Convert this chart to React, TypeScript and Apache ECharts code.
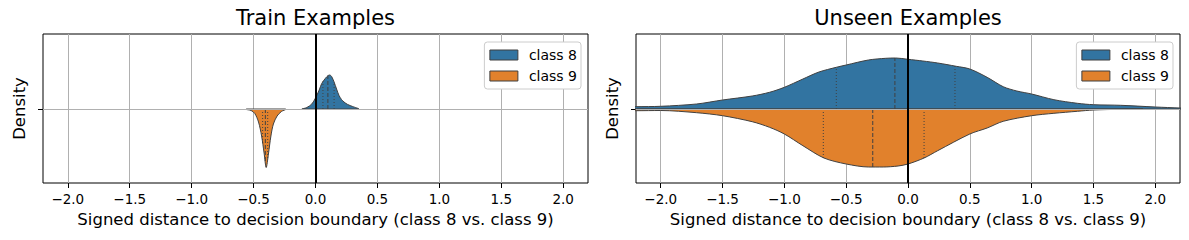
import React, { useEffect, useRef } from 'react';
import * as echarts from 'echarts';

const FONT = 'DejaVu Sans';
const BLUE = '#3274a1';
const ORANGE = '#e1812c';
const OUTLINE = '#404040';
const GRID_COLOR = '#b0b0b0';

const TITLES = ['Train Examples', 'Unseen Examples'];
const LEGEND_NAMES = ['class 8', 'class 9'];
const X_NAME = 'Signed distance to decision boundary (class 8 vs. class 9)';
const Y_NAME = 'Density';
const X_TICKS = [-2, -1.5, -1, -0.5, 0, 0.5, 1, 1.5, 2];

// Train: class 8 (upper half) density profile
const TRAIN_C8_X = [-0.11, -0.07, -0.03, 0, 0.03, 0.05, 0.08, 0.1, 0.115, 0.13, 0.15, 0.17, 0.19, 0.21, 0.23, 0.26, 0.3, 0.35];
const TRAIN_C8_D = [0, 1.5, 5, 11, 19, 25.5, 30.7, 33.3, 34, 32.5, 27, 20, 13.5, 9.5, 7, 4.5, 2.5, 0.3];
const TRAIN_C8_QX = [0.06, 0.1, 0.15];
const TRAIN_C8_QD = [27.5, 33.3, 27];

// Train: class 9 (lower half)
const TRAIN_C9_X = [-0.56, -0.52, -0.49, -0.46, -0.435, -0.415, -0.398, -0.38, -0.36, -0.34, -0.31, -0.275, -0.24];
const TRAIN_C9_D = [0.5, 1.5, 4.5, 13, 27, 44, 58.5, 45, 27, 15, 7, 2.5, 0.5];
const TRAIN_C9_QX = [-0.427, -0.405, -0.386];
const TRAIN_C9_QD = [35, 53, 49];

// Unseen: class 8
const UNSEEN_C8_X = [-2.4, -2.2, -2.0, -1.71, -1.5, -1.26, -1.12, -1.0, -0.85, -0.72, -0.58, -0.5, -0.32, -0.18, -0.1, 0, 0.12, 0.24, 0.39, 0.5, 0.64, 0.77, 0.88, 1.0, 1.18, 1.37, 1.5, 1.72, 2.0, 2.2, 2.35];
const UNSEEN_C8_D = [2, 2.3, 2.7, 5, 9, 13, 16.7, 21.7, 30, 37, 41.7, 44, 49, 50.7, 51, 49.7, 48, 46, 42.7, 40, 31.7, 22.3, 18, 15, 9.3, 5.7, 4.3, 3.7, 2, 1, 0.5];
const UNSEEN_C8_QX = [-0.58, -0.106, 0.38];
const UNSEEN_C8_QD = [41.7, 51, 42.7];

// Unseen: class 9
const UNSEEN_C9_X = [-2.4, -2.2, -2.0, -1.71, -1.5, -1.26, -1.12, -1.0, -0.85, -0.68, -0.5, -0.32, -0.2, -0.08, 0, 0.13, 0.24, 0.5, 0.64, 0.77, 1.0, 1.18, 1.37, 1.5, 1.72, 1.9];
const UNSEEN_C9_D = [1.5, 1.7, 1.5, 3.7, 6.7, 12.7, 18.3, 25, 36.7, 49, 55, 58, 58, 57, 55, 49, 41.7, 25, 19, 12.3, 6.7, 4.3, 2.3, 1, 0.3, 0];
const UNSEEN_C9_QX = [-0.685, -0.285, 0.13];
const UNSEEN_C9_QD = [49, 58.3, 49];

const PANELS = [
  {
    c8: { x: TRAIN_C8_X, d: TRAIN_C8_D, qx: TRAIN_C8_QX, qd: TRAIN_C8_QD },
    c9: { x: TRAIN_C9_X, d: TRAIN_C9_D, qx: TRAIN_C9_QX, qd: TRAIN_C9_QD },
  },
  {
    c8: { x: UNSEEN_C8_X, d: UNSEEN_C8_D, qx: UNSEEN_C8_QX, qd: UNSEEN_C8_QD },
    c9: { x: UNSEEN_C9_X, d: UNSEEN_C9_D, qx: UNSEEN_C9_QX, qd: UNSEEN_C9_QD },
  },
];

const GRID_LEFTS = [43, 636];
const GRID_WIDTHS = [545, 544];

function fmt(v: number) {
  const s = Math.abs(v).toFixed(1);
  return v < 0 ? '\u2212' + s : s;
}

function halfSeries(g: number, name: string, v: any, sign: number, fill: string) {
  const out: any[] = [];
  out.push({
    type: 'line',
    name,
    xAxisIndex: g,
    yAxisIndex: g,
    data: v.x.map((x: number, i: number) => [x, sign * v.d[i]]),
    smooth: 0.3,
    showSymbol: false,
    symbol: 'none',
    color: fill,
    itemStyle: { color: fill },
    lineStyle: { color: OUTLINE, width: 1 },
    areaStyle: { color: fill, opacity: 1, origin: 'auto' },
    silent: true,
    z: 2,
  });
  out.push({
    type: 'line',
    name: name + ' base',
    xAxisIndex: g,
    yAxisIndex: g,
    data: [[v.x[0], 0], [v.x[v.x.length - 1], 0]],
    showSymbol: false,
    symbol: 'none',
    lineStyle: { color: OUTLINE, width: 1 },
    silent: true,
    z: 2,
  });
  v.qx.forEach((q: number, i: number) => {
    out.push({
      type: 'line',
      name: name + ' q' + i,
      xAxisIndex: g,
      yAxisIndex: g,
      data: [[q, 0], [q, sign * v.qd[i]]],
      showSymbol: false,
      symbol: 'none',
      lineStyle: { color: OUTLINE, width: 1, type: i === 1 ? [4, 2] : [1, 2] },
      silent: true,
      z: 3,
    });
  });
  return out;
}

export default function App() {
  const ref = useRef<HTMLDivElement>(null);
  useEffect(() => {
    if (!ref.current) return;
    const chart = echarts.init(ref.current, null, { renderer: 'svg' });
    const grids: any[] = [];
    const xAxes: any[] = [];
    const yAxes: any[] = [];
    const series: any[] = [];
    const titles: any[] = [];
    const legends: any[] = [];
    PANELS.forEach((p, g) => {
      grids.push({
        left: GRID_LEFTS[g],
        top: 34,
        width: GRID_WIDTHS[g],
        height: 149,
        show: true,
        borderColor: '#000',
        borderWidth: 1,
        backgroundColor: 'transparent',
      });
      xAxes.push({
        type: 'value',
        gridIndex: g,
        min: -2.2,
        max: 2.2,
        splitNumber: 9,
        axisLine: { show: false, onZero: false },
        axisTick: { show: true, customValues: X_TICKS, length: 5, lineStyle: { color: '#000', width: 1 } },
        axisLabel: {
          customValues: X_TICKS,
          formatter: (v: number) => fmt(v),
          fontSize: 13.5,
          color: '#000',
          margin: 9,
          fontFamily: FONT,
        },
        splitLine: { show: true, lineStyle: { color: GRID_COLOR, width: 1 } },
        name: X_NAME,
        nameLocation: 'middle',
        nameGap: 27,
        nameTextStyle: { fontSize: 16.5, color: '#000', fontFamily: FONT },
      });
      yAxes.push({
        type: 'value',
        gridIndex: g,
        min: -74,
        max: 75,
        axisLine: { show: false, onZero: false },
        axisLabel: { show: false },
        axisTick: { show: true, customValues: [0], length: 5, lineStyle: { color: '#000', width: 1 } },
        splitLine: { show: false },
        name: Y_NAME,
        nameLocation: 'middle',
        nameGap: 15,
        nameTextStyle: { fontSize: 16.5, color: '#000', fontFamily: FONT },
      });
      // horizontal grid line at the category position
      series.push({
        type: 'line',
        name: 'hgrid' + g,
        xAxisIndex: g,
        yAxisIndex: g,
        data: [[0, 0]],
        showSymbol: false,
        symbol: 'none',
        lineStyle: { opacity: 0 },
        silent: true,
        z: 1,
        markLine: {
          silent: true,
          symbol: ['none', 'none'],
          label: { show: false },
          lineStyle: { color: GRID_COLOR, width: 1, type: 'solid' },
          data: [{ yAxis: 0 }],
        },
      });
      series.push(...halfSeries(g, LEGEND_NAMES[0], p.c8, 1, BLUE));
      series.push(...halfSeries(g, LEGEND_NAMES[1], p.c9, -1, ORANGE));
      // vertical decision boundary line
      series.push({
        type: 'line',
        name: 'zero' + g,
        xAxisIndex: g,
        yAxisIndex: g,
        data: [[0, 0]],
        showSymbol: false,
        symbol: 'none',
        lineStyle: { opacity: 0 },
        silent: true,
        z: 5,
        markLine: {
          silent: true,
          symbol: ['none', 'none'],
          label: { show: false },
          lineStyle: { color: '#000', width: 2, type: 'solid' },
          data: [{ xAxis: 0 }],
        },
      });
      titles.push({
        text: TITLES[g],
        left: GRID_LEFTS[g] + GRID_WIDTHS[g] / 2,
        top: 7,
        textAlign: 'center',
        padding: 0,
        textStyle: { fontSize: 21, fontWeight: 'normal', color: '#000', fontFamily: FONT },
      });
      legends.push({
        data: LEGEND_NAMES,
        right: 1189 - (GRID_LEFTS[g] + GRID_WIDTHS[g]) + 7,
        top: 42,
        orient: 'vertical',
        icon: 'rect',
        itemWidth: 28,
        itemHeight: 10,
        itemGap: 7,
        padding: [6, 4, 6, 5],
        backgroundColor: '#ffffff',
        borderColor: '#cccccc',
        borderWidth: 1,
        borderRadius: 3,
        selectedMode: false,
        itemStyle: { borderColor: '#3f3f3f', borderWidth: 1 },
        textStyle: { fontSize: 14, color: '#000', fontFamily: FONT, padding: [0, 0, 0, 6] },
      });
    });
    chart.setOption({
      animation: false,
      backgroundColor: '#ffffff',
      title: titles,
      legend: legends,
      grid: grids,
      xAxis: xAxes,
      yAxis: yAxes,
      series,
    });
    return () => chart.dispose();
  }, []);
  return (
    <div
      ref={ref}
      style={{ position: 'absolute', left: 0, top: 0, width: 1189, height: 240 }}
    />
  );
}
